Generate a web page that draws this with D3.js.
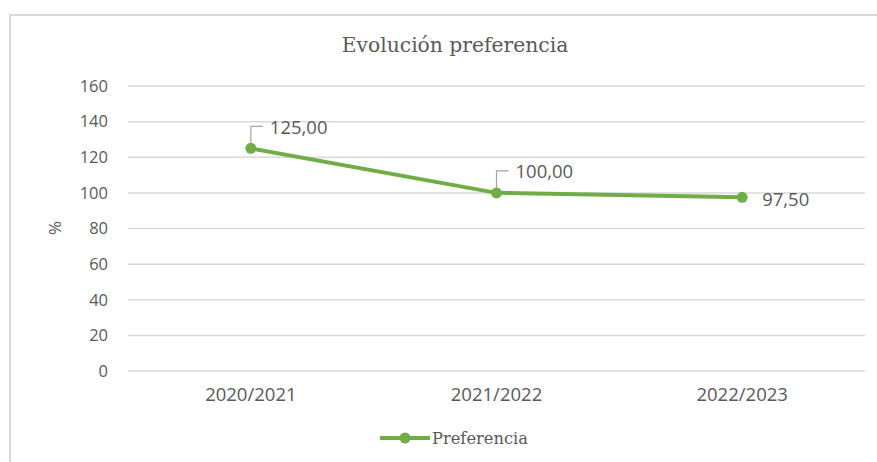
<!DOCTYPE html>
<html lang="es">
<head>
<meta charset="UTF-8">
<title>Evolución preferencia</title>
<script src="https://d3js.org/d3.v7.min.js"></script>
<style>
    body { margin: 0; background: #fff; }
    svg text { fill: #595959; }
</style>
</head>
<body>
<div id="chart"></div>
<script>
    // data
    const seasons = ["2020/2021", "2021/2022", "2022/2023"];
    const preferencia = [125.00, 100.00, 97.50];
    const yTicks = [0, 20, 40, 60, 80, 100, 120, 140, 160];
    const labelText = ["125,00", "100,00", "97,50"];

    const W = 877, H = 462;
    const green = "#70ad47";
    const serif = "'DejaVu Serif', 'Liberation Serif', serif";
    const sans = "'Open Sans', 'Liberation Sans', sans-serif";

    let svg = d3.select("#chart").append("svg")
        .attr("width", W).attr("height", H);

    // outer frame (only top and left edge are in view)
    svg.append("rect")
        .attr("x", 10).attr("y", 15)
        .attr("width", W + 20).attr("height", H + 20)
        .attr("fill", "#fff")
        .attr("stroke", "#d9d9d9").attr("stroke-width", 2);

    let x = d3.scaleBand().domain(seasons).range([128, 865]).padding(0);
    let y = d3.scaleLinear().domain([0, 160]).range([371, 86]);

    // gridlines
    svg.append("g").selectAll("line")
        .data(yTicks)
        .join("line")
        .attr("x1", 128).attr("x2", 865)
        .attr("y1", d => y(d)).attr("y2", d => y(d))
        .attr("stroke", "#d9d9d9").attr("stroke-width", 1.5);

    // y axis labels
    let yAxis = svg.append("g")
        .attr("transform", "translate(108,0)")
        .call(d3.axisLeft(y).tickValues(yTicks).tickSize(0).tickPadding(0));
    yAxis.select(".domain").remove();
    yAxis.selectAll("text")
        .attr("font-family", sans).attr("font-size", 16.5)
        .attr("fill", "#595959");

    // x axis labels
    let xAxis = svg.append("g")
        .attr("transform", "translate(0,371)")
        .call(d3.axisBottom(x).tickSize(0).tickPadding(17));
    xAxis.select(".domain").remove();
    xAxis.selectAll("text")
        .attr("font-family", sans).attr("font-size", 18.5)
        .attr("fill", "#595959");

    // y axis title
    svg.append("text")
        .attr("transform", "translate(61,228) rotate(-90)")
        .attr("text-anchor", "middle")
        .attr("font-family", sans).attr("font-size", 17)
        .text("%");

    // title
    svg.append("text")
        .attr("x", 455).attr("y", 52)
        .attr("text-anchor", "middle")
        .attr("font-family", serif).attr("font-size", 20.3)
        .text("Evolución preferencia");

    let cx = d => x(d) + x.bandwidth() / 2;

    // series line
    let line = d3.line()
        .x((d, i) => cx(seasons[i]))
        .y(d => y(d));

    svg.append("path")
        .datum(preferencia)
        .attr("fill", "none")
        .attr("stroke", green).attr("stroke-width", 4)
        .attr("stroke-linecap", "round").attr("stroke-linejoin", "round")
        .attr("d", line);

    // leader lines for the first two labels
    let leaders = [0, 1];
    svg.append("g").selectAll("path")
        .data(leaders)
        .join("path")
        .attr("fill", "none")
        .attr("stroke", "#a6a6a6").attr("stroke-width", 1.2)
        .attr("d", i => {
            let px = cx(seasons[i]), py = y(preferencia[i]);
            return `M${px},${py - 2}V${py - 22}H${px + 12}`;
        });

    // markers
    svg.append("g").selectAll("circle")
        .data(preferencia)
        .join("circle")
        .attr("cx", (d, i) => cx(seasons[i]))
        .attr("cy", d => y(d))
        .attr("r", 5.5)
        .attr("fill", green);

    // data labels
    svg.append("g").selectAll("text")
        .data(preferencia)
        .join("text")
        .attr("x", (d, i) => cx(seasons[i]) + (i < 2 ? 19 : 20))
        .attr("y", (d, i) => y(d) + (i < 2 ? -21 : 2))
        .attr("dy", "0.35em")
        .attr("font-family", sans).attr("font-size", 18.5)
        .text((d, i) => labelText[i]);

    // legend
    let lg = svg.append("g").attr("transform", "translate(380,438)");
    lg.append("line")
        .attr("x1", 0).attr("x2", 50)
        .attr("stroke", green).attr("stroke-width", 4);
    lg.append("circle")
        .attr("cx", 25).attr("r", 5.5).attr("fill", green);
    lg.append("text")
        .attr("x", 52).attr("dy", "0.35em")
        .attr("font-family", serif).attr("font-size", 16.3)
        .text("Preferencia");
</script>
</body>
</html>
